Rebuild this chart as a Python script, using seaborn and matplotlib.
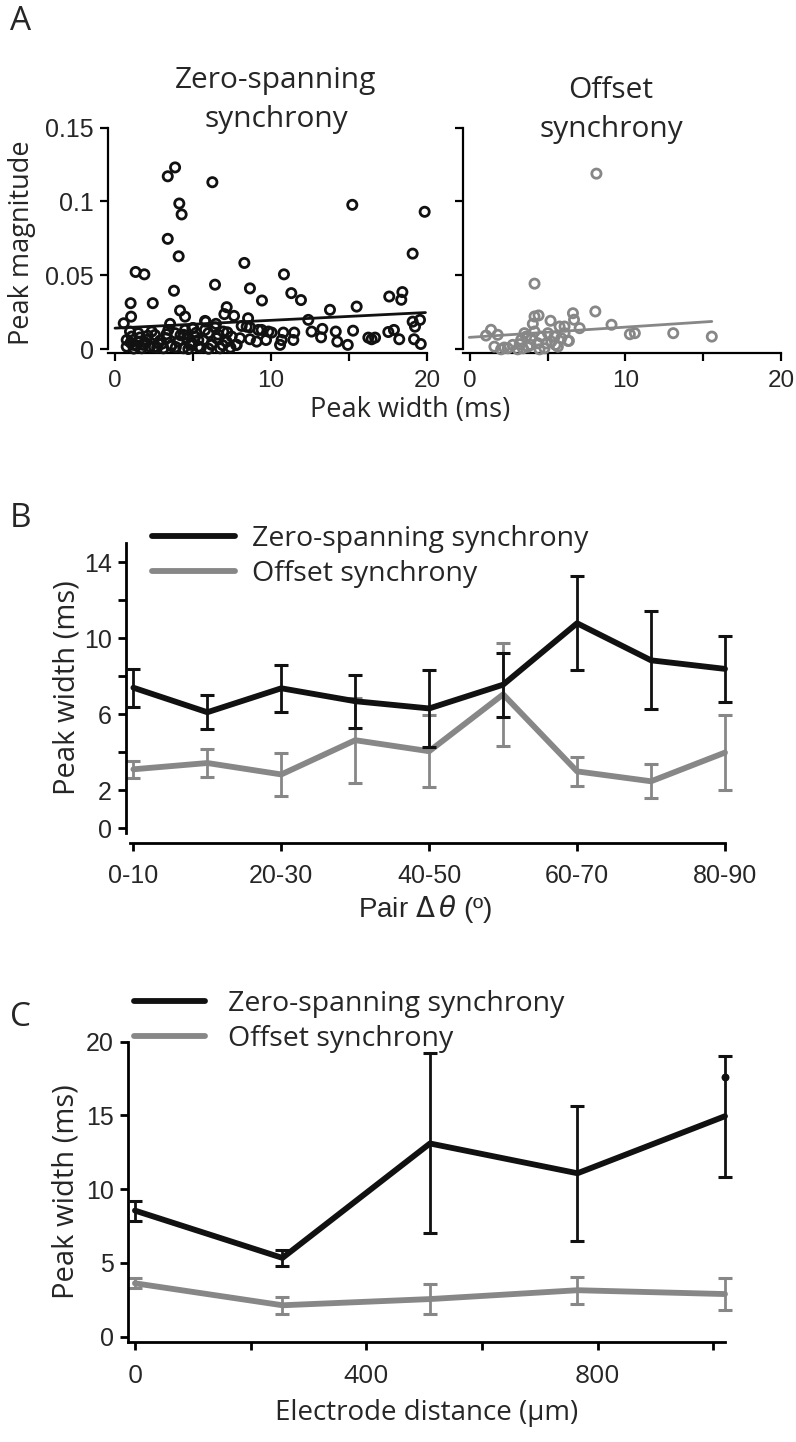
import numpy as np
import pandas as pd
import matplotlib
matplotlib.use('Agg')
import matplotlib.pyplot as plt
import seaborn as sns

# ---- Panel A: peak width (ms) vs peak magnitude for each pair ----
zero_width = [3.38, 3.85, 6.24, 4.12, 4.27, 3.38, 4.08, 15.21, 19.85, 1.32, 1.88, 8.29, 10.83, 19.08,
              6.41, 3.78, 8.65, 11.3, 11.92, 9.42, 1.0, 2.42, 17.58, 18.42, 18.35, 15.49, 13.78,
              4.17, 4.49, 7.16, 7.01, 7.63, 1.03, 0.56, 12.39, 19.08, 19.55, 19.23, 12.6, 13.29,
              13.21, 14.15, 14.25, 14.92, 15.26, 16.24, 16.67, 16.45, 17.52, 17.88, 18.22, 19.17,
              19.6, 5.02, 5.81, 6.47, 8.44, 9.4, 10.04, 10.79, 11.49, 11.43, 10.68, 10.58, 8.65,
              9.08, 9.68, 7.76, 8.53, 3.53, 4.96, 5.77, 6.41, 8.12, 8.65, 9.19, 9.83,
              0.75, 0.75, 1.07, 1.17, 1.49, 1.71, 2.03, 2.24, 2.56, 2.78, 3.1, 3.31, 3.63, 3.85,
              4.06, 4.38, 4.6, 4.81, 5.13, 5.34, 5.66, 5.98, 6.19, 6.52, 6.73, 6.94, 7.16, 7.48,
              7.8, 8.01, 3.42, 2.35, 0.96, 1.49, 1.81, 4.49, 5.77, 5.34, 1.2, 2.7, 3.9, 4.7, 6.0,
              1.0, 1.4, 1.9, 2.5, 3.0, 3.6, 4.2, 4.9, 5.5, 6.2, 6.9, 7.4, 2.1, 3.3, 4.4, 5.2,
              6.6, 7.2, 1.6, 2.9]
zero_mag = [0.117, 0.123, 0.113, 0.0986, 0.0912, 0.0747, 0.0629, 0.0977, 0.093, 0.0523, 0.0507,
            0.0584, 0.0507, 0.0647, 0.0437, 0.0396, 0.0412, 0.038, 0.0333, 0.033, 0.0312, 0.0312,
            0.0357, 0.0387, 0.0335, 0.0289, 0.0267, 0.0262, 0.0221, 0.0285, 0.0238, 0.0226,
            0.0221, 0.0176, 0.0199, 0.0187, 0.0199, 0.0153, 0.012, 0.0138, 0.0081, 0.012,
            0.0052, 0.003, 0.0126, 0.0079, 0.0079, 0.0068, 0.0117, 0.0131, 0.0068, 0.0068,
            0.0036, 0.0143, 0.0187, 0.0172, 0.0153, 0.0131, 0.0113, 0.0113, 0.0113, 0.0063,
            0.0063, 0.003, 0.0068, 0.0052, 0.0063, 0.003, 0.021, 0.0172, 0.0143, 0.0192,
            0.0149, 0.0158, 0.0149, 0.0131, 0.012,
            0.0063, 0.0018, 0.0086, 0.003, 0.0052, 0.0007, 0.0063, 0.0018, 0.0097, 0.0041,
            0.0007, 0.0075, 0.003, 0.0109, 0.0052, 0.0007, 0.0075, 0.003, 0.0086, 0.0018,
            0.0063, 0.0109, 0.003, 0.0075, 0.0007, 0.012, 0.0052, 0.0086, 0.003, 0.0075,
            0.0131, 0.012, 0.012, 0.0109, 0.003, 0.0131, 0.0131, 0.0063, 0.0005, 0.0012,
            0.0015, 0.0002, 0.0004,
            0.0045, 0.0025, 0.0048, 0.0015, 0.0038, 0.0022, 0.0095, 0.0045, 0.0012, 0.0035,
            0.0028, 0.0012, 0.0092, 0.0102, 0.0098, 0.0112, 0.0100, 0.0115, 0.0080, 0.0060]

offset_width = [8.13, 4.15, 8.06, 6.62, 6.69, 5.18, 4.15, 4.41, 4.04, 9.1, 6.08, 7.05, 1.35,
                1.03, 1.78, 10.28, 10.6, 13.07, 15.55, 6.36, 1.57, 2.0, 2.43, 2.75, 3.07, 3.29,
                3.5, 3.72, 3.94, 4.15, 4.36, 4.58, 4.79, 5.01, 5.23, 5.44, 5.65, 5.87, 6.08,
                6.3, 3.4, 4.47, 3.61, 5.76, 2.2, 3.9, 4.9, 5.5, 3.2]
offset_mag = [0.1188, 0.0444, 0.0256, 0.0244, 0.02, 0.0193, 0.0222, 0.0229, 0.0172, 0.0166,
              0.0154, 0.0143, 0.0132, 0.0093, 0.0098, 0.0102, 0.0109, 0.0109, 0.0086, 0.0057,
              0.0018, 0.0, 0.0007, 0.003, 0.0, 0.0064, 0.0109, 0.0018, 0.0071, 0.012, 0.0041,
              0.0086, 0.0007, 0.0109, 0.0052, 0.0086, 0.0018, 0.0075, 0.0109, 0.0057, 0.0007,
              0.0, 0.0086, 0.0154, 0.0012, 0.0030, 0.0040, 0.0030, 0.0035]

# linear fits as drawn in the figure: intercept, slope, x start, x end
zero_fit = [0.0143, 0.00053, 0.0, 19.9]
offset_fit = [0.0081, 0.00069, -0.05, 15.55]

# ---- Panel B: peak width vs pair delta theta ----
theta_bins = ['0-10', '10-20', '20-30', '30-40', '40-50', '50-60', '60-70', '70-80', '80-90']
zero_theta_mean = [7.39, 6.1, 7.36, 6.68, 6.3, 7.55, 10.78, 8.83, 8.38]
zero_theta_err = [1.01, 0.9, 1.24, 1.4, 2.02, 1.69, 2.47, 2.58, 1.73]
offset_theta_mean = [3.1, 3.43, 2.83, 4.63, 4.05, 7.04, 2.99, 2.47, 3.98]
offset_theta_err = [0.44, 0.72, 1.13, 2.24, 1.9, 2.7, 0.75, 0.9, 1.97]

# ---- Panel C: peak width vs electrode distance ----
dist_um = [0, 255, 510, 765, 1020]
zero_dist_mean = [8.55, 5.34, 13.1, 11.08, 14.95]
zero_dist_err = [0.68, 0.55, 6.1, 4.57, 4.1]
offset_dist_mean = [3.62, 2.13, 2.55, 3.15, 2.89]
offset_dist_err = [0.34, 0.59, 1.0, 0.93, 1.08]
zero_dist_dot = [1020, 17.6]

BLACK = '#111111'
GRAY = '#878787'

sns.set_style('ticks')
plt.rcParams['font.family'] = ['Open Sans', 'DejaVu Sans']
plt.rcParams['mathtext.fontset'] = 'dejavusans'
narrow = ['Liberation Sans Narrow', 'Liberation Sans', 'DejaVu Sans']
arial = ['Liberation Sans', 'DejaVu Sans']

fig = plt.figure(figsize=(7.96, 14.42), dpi=100)
W, H = 796.0, 1442.0


def box(x0, y0, x1, y1):
    # pixel box (top-left origin) -> figure fraction rect
    return [x0 / W, 1 - y1 / H, (x1 - x0) / W, (y1 - y0) / H]


def style_axis(ax, lw=1.6):
    for s in ['top', 'right']:
        ax.spines[s].set_visible(False)
    for s in ['left', 'bottom']:
        ax.spines[s].set_linewidth(lw)
        ax.spines[s].set_color('black')
    ax.tick_params(direction='out', length=6, width=lw, color='black', pad=4)
    ax.set_facecolor('none')


# ---------------- Panel A ----------------
axL = fig.add_axes(box(108, 127.5, 427, 353))
axR = fig.add_axes(box(463, 127.5, 781, 353))

sns.scatterplot(x=zero_width, y=zero_mag, ax=axL, s=44, facecolor='none',
                edgecolor=BLACK, linewidth=2.0, zorder=3)
sns.scatterplot(x=offset_width, y=offset_mag, ax=axR, s=44, facecolor='none',
                edgecolor=GRAY, linewidth=2.0, zorder=3)

for ax, fit, col in [(axL, zero_fit, BLACK), (axR, offset_fit, GRAY)]:
    fx = np.array(fit[2:])
    ax.plot(fx, fit[0] + fit[1] * fx, color=col, lw=2.0, zorder=4)
    style_axis(ax)
    ax.set_xlim(-0.45, 20)
    ax.set_ylim(-0.0025, 0.15)
    ax.set_xticks([0, 5, 10, 15, 20])
    ax.set_xticklabels(['0', '', '10', '', '20'], family=narrow, fontsize=17.5)
    ax.tick_params(axis='x', pad=6)
    ax.set_yticks([0, 0.05, 0.1, 0.15])
    ax.spines['left'].set_bounds(0, 0.15)
    for c in ax.collections:
        c.set_clip_on(False)

axL.set_yticklabels(['0', '0.05', '0.1', '0.15'], family=narrow, fontsize=18)
axR.set_yticklabels([])

fig.text(276 / W, 1 - 100 / H, 'Zero-spanning\nsynchrony', ha='center', va='center',
         fontsize=21.5, linespacing=1.42)
fig.text(611 / W, 1 - 110 / H, 'Offset\nsynchrony', ha='center', va='center',
         fontsize=21.5, linespacing=1.42)
fig.text(22 / W, 1 - 243 / H, 'Peak magnitude', rotation=90, ha='center', va='center',
         fontsize=19.5)
fig.text(410 / W, 1 - 410 / H, 'Peak width (ms)', ha='center', va='center', fontsize=19.5)
fig.text(10 / W, 1 - 22 / H, 'A', ha='left', va='center', fontsize=24)


# ---------------- line panels ----------------
def line_panel(ax, x, zm, ze, om, oe):
    dfz = pd.DataFrame({'x': x, 'y': zm})
    dfo = pd.DataFrame({'x': x, 'y': om})
    sns.lineplot(data=dfo, x='x', y='y', ax=ax, color=GRAY, lw=4.2, zorder=2,
                 label='Offset synchrony')
    ax.errorbar(x, om, yerr=oe, fmt='none', ecolor=GRAY, elinewidth=2.0, capsize=5,
                capthick=2.2, zorder=2)
    sns.lineplot(data=dfz, x='x', y='y', ax=ax, color=BLACK, lw=4.2, zorder=3,
                 label='Zero-spanning synchrony')
    ax.errorbar(x, zm, yerr=ze, fmt='none', ecolor=BLACK, elinewidth=2.0, capsize=5,
                capthick=2.2, zorder=3)
    for art in ax.lines + ax.collections:
        art.set_clip_on(False)
    h, l = ax.get_legend_handles_labels()
    ax.get_legend().remove()
    return h[::-1], l[::-1]


# Panel B
axB = fig.add_axes(box(126, 543, 725, 833))
idx = np.arange(len(theta_bins))
hB, lB = line_panel(axB, idx, zero_theta_mean, zero_theta_err,
                    offset_theta_mean, offset_theta_err)
style_axis(axB, lw=2.0)
axB.spines['bottom'].set_position(('outward', 7))
axB.set_xlim(-0.1, 8.0)
axB.set_ylim(-0.25, 15)
axB.spines['left'].set_bounds(-0.25, 15)
axB.spines['bottom'].set_bounds(-0.05, 8.0)
axB.set_xticks(idx[::2])
axB.set_xticklabels(theta_bins[::2], family=narrow, fontsize=18)
axB.tick_params(axis='x', pad=9)
axB.set_yticks([0, 2, 4, 6, 8, 10, 12, 14])
axB.set_yticklabels(['0', '2', '', '6', '', '10', '', '14'], family=arial, fontsize=18)
axB.set_xlabel(r'Pair $\Delta\,\theta$ (º)', family=arial, fontsize=20, labelpad=4)
axB.set_ylabel('Peak width (ms)', fontsize=21, labelpad=2)
axB.legend(hB, lB, loc='upper left', bbox_to_anchor=(152 / W, 1 - 525 / H),
           bbox_transform=fig.transFigure, frameon=False, fontsize=20.5,
           handlelength=2.9, handletextpad=0.6, labelspacing=0.25, borderpad=0,
           borderaxespad=0)
fig.text(10 / W, 1 - 518 / H, 'B', ha='left', va='center', fontsize=24)

# Panel C
axC = fig.add_axes(box(128, 1041.7, 725, 1341.7))
hC, lC = line_panel(axC, dist_um, zero_dist_mean, zero_dist_err,
                    offset_dist_mean, offset_dist_err)
axC.scatter([zero_dist_dot[0]], [zero_dist_dot[1]], s=22, color=BLACK, zorder=4,
            clip_on=False)
style_axis(axC, lw=2.0)
axC.set_xlim(-12, 1020)
axC.set_ylim(-0.34, 20)
axC.spines['left'].set_bounds(-0.34, 20)
axC.set_xticks([0, 200, 400, 600, 800, 1000])
axC.set_xticklabels(['0', '', '400', '', '800', ''], fontsize=19)
axC.set_yticks([0, 5, 10, 15, 20])
axC.set_yticklabels(['0', '5', '10', '15', '20'], family=arial, fontsize=18)
axC.tick_params(axis='x', pad=10)
axC.set_xlabel('Electrode distance (µm)', fontsize=20, labelpad=7)
axC.set_ylabel('Peak width (ms)', fontsize=21, labelpad=4)
axC.legend(hC, lC, loc='upper left', bbox_to_anchor=(134 / W, 1 - 990 / H),
           bbox_transform=fig.transFigure, frameon=False, fontsize=20.5,
           handlelength=2.5, handletextpad=0.8, labelspacing=0.25, borderpad=0,
           borderaxespad=0)
fig.text(10 / W, 1 - 1018 / H, 'C', ha='left', va='center', fontsize=24)

plt.savefig('out.png', dpi=100)
